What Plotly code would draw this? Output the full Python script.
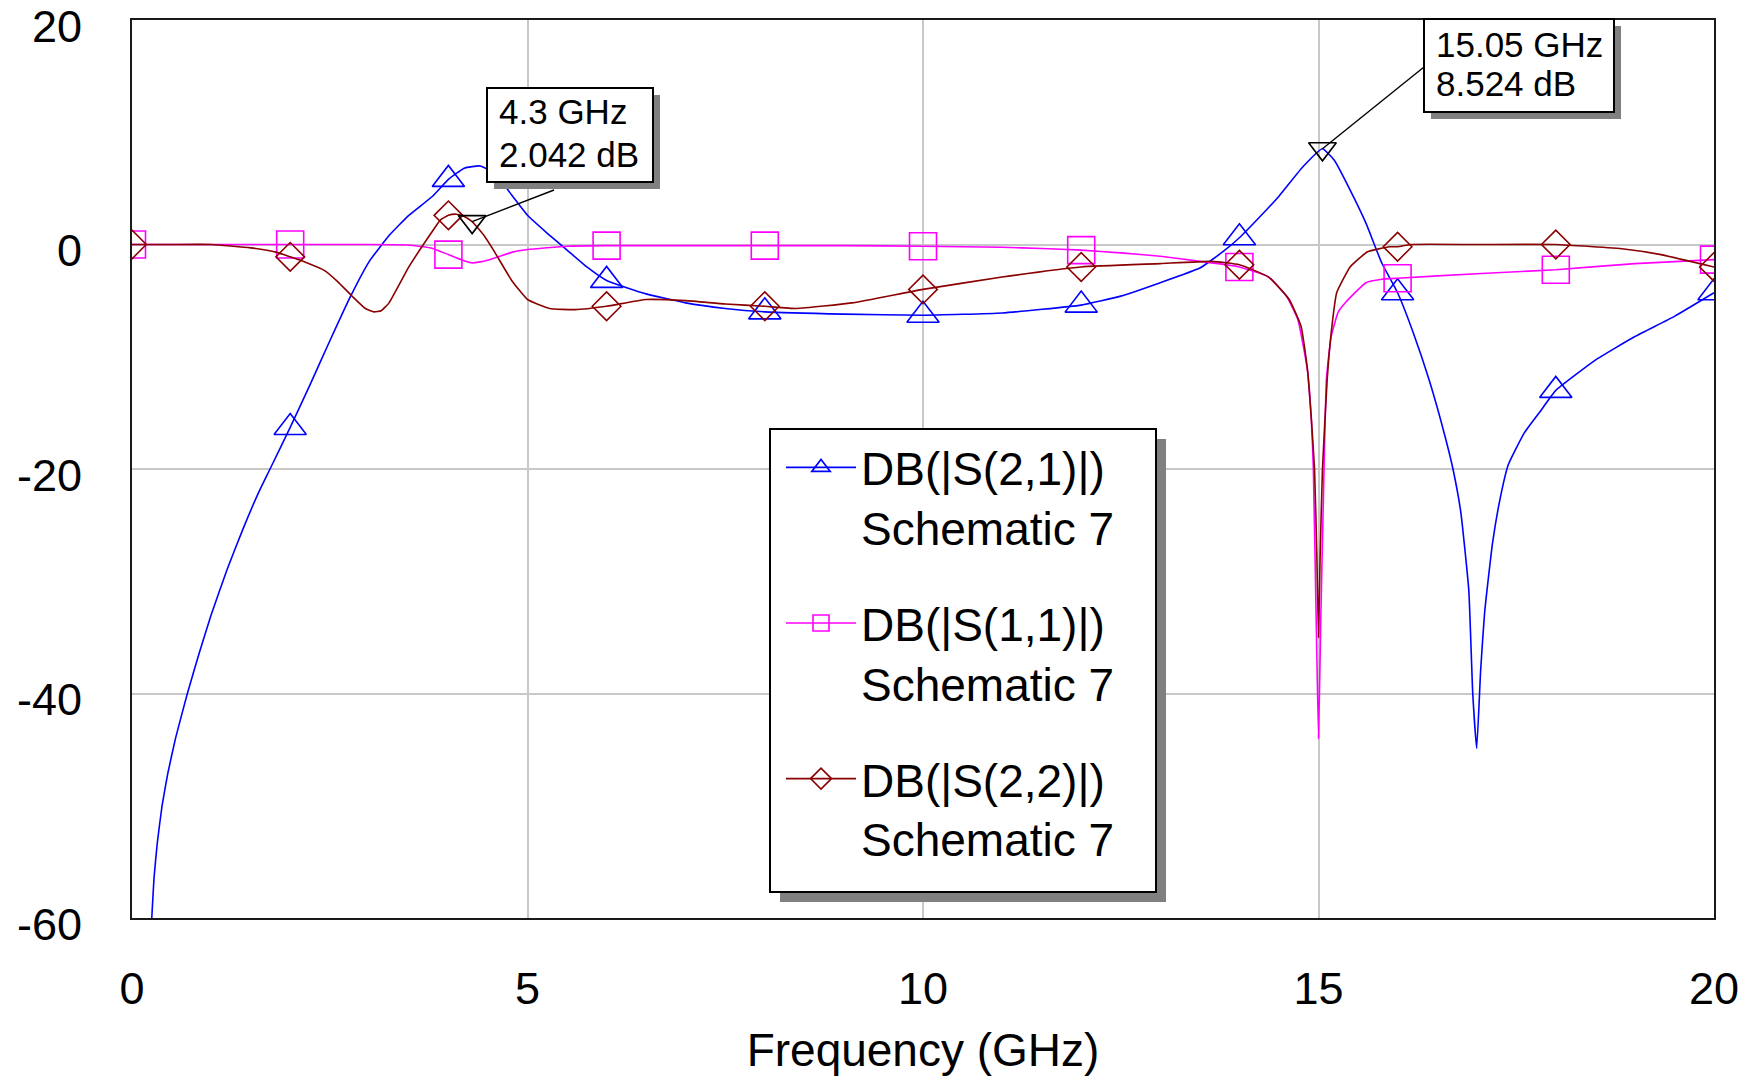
import plotly.graph_objects as go

# ---- S-parameter sweep data (frequency in GHz, magnitude in dB) ----
freq_s21 = [0.25, 0.28, 0.32, 0.38, 0.45, 0.55, 0.70, 0.85, 1.0, 1.2, 1.4, 1.6, 1.745,
            2.0, 2.25, 2.5, 2.75, 3.0, 3.25, 3.5, 3.8, 4.0, 4.2, 4.4, 4.6, 4.8, 5.0,
            5.25, 5.5, 5.75, 6.0, 6.5, 7.0, 7.5, 8.0, 9.0, 10.0, 11.0, 12.0, 12.5, 13.0,
            13.5, 13.8, 14.0, 14.25, 14.5, 14.8, 15.05, 15.2, 15.4, 15.6, 15.8, 16.0,
            16.2, 16.4, 16.6, 16.7, 16.8, 16.9, 16.95, 17.0, 17.05, 17.1, 17.2, 17.3,
            17.4, 17.6, 17.8, 18.0, 18.5, 19.0, 19.5, 20.0]
db_s21 = [-60, -56.3, -53.3, -50.0, -47.2, -44.0, -40.0, -36.4, -33.0, -29.0, -25.4, -22.1, -20.0,
          -16.3, -12.5, -8.6, -4.8, -1.5, 0.8, 2.6, 4.3, 5.8, 6.8, 7.0, 6.3, 4.4, 2.6,
          1.0, -0.5, -2.0, -3.2, -4.4, -5.2, -5.7, -6.0, -6.2, -6.3, -6.1, -5.4, -4.6, -3.4,
          -2.1, -0.6, 0.6, 2.4, 4.3, 6.9, 8.524, 7.5, 4.85, 1.9, -1.65, -4.3,
          -7.9, -12.1, -17.1, -20, -23.9, -30.8, -40, -44.9, -37.9, -32.8, -26.6, -22.5,
          -19.6, -16.8, -14.9, -13.0, -10.3, -8.2, -6.4, -4.3]

freq_s11 = [0, 1, 2, 3, 3.5, 3.8, 4.0, 4.2, 4.3, 4.5, 4.8, 5.0, 5.5, 6.0, 7.0, 8.0, 9.0,
            10.0, 11.0, 11.5, 12.0, 12.5, 13.0, 13.5, 14.0, 14.37, 14.6, 14.74, 14.86,
            14.91, 14.935, 14.975, 15.0, 15.03, 15.07, 15.1, 15.16, 15.25, 15.35, 15.6,
            15.8, 16.0, 17.0, 18.0, 19.0, 20.0]
db_s11 = [0, 0, 0, 0, -0.05, -0.35, -0.9, -1.45, -1.65, -1.4, -0.7, -0.45, -0.15, -0.1,
          -0.1, -0.1, -0.1, -0.15, -0.25, -0.35, -0.5, -0.75, -1.05, -1.5, -2.0, -2.9,
          -4.65, -6.7, -11.2, -15.6, -20, -35, -44, -33, -20, -12, -8.2, -6.0, -5.1, -3.4,
          -3.1, -3.0, -2.6, -2.25, -1.7, -1.35]

freq_s22 = [0, 0.5, 1.0, 1.5, 1.83, 2.0, 2.2, 2.43, 2.6, 2.79, 2.95, 3.06, 3.15, 3.25,
            3.5, 3.78, 3.9, 4.0, 4.1, 4.2, 4.3, 4.45, 4.57, 4.8, 5.0, 5.28, 5.6, 6.0,
            6.5, 7.0, 7.5, 8.0, 8.4, 9.1, 10.0, 11.0, 12.0, 13.0, 13.65, 14.0, 14.37,
            14.63, 14.78, 14.86, 14.91, 14.95, 14.98, 15.0, 15.02, 15.05, 15.11, 15.16,
            15.23, 15.4, 15.62, 15.9, 16.0, 16.17, 17.0, 18.0, 18.86, 19.33, 20.0]
db_s22 = [0, 0, 0, -0.3, -0.7, -1.1, -1.6, -2.3, -3.3, -4.65, -5.7, -6.0, -5.9, -5.2,
          -2.0, 1.0, 2.2, 2.6, 2.7, 2.5, 2.042, 0.8, -0.5, -3.2, -4.9, -5.7, -5.8, -5.5,
          -4.9, -5.0, -5.3, -5.5, -5.7, -5.2, -4.0, -2.9, -2.0, -1.7, -1.5, -1.8, -2.9,
          -4.9, -7.3, -11.1, -15.6, -20, -28, -35, -28, -20, -12, -7.9,
          -4.3, -2.0, -0.65, -0.2, -0.2, 0, 0, 0, -0.4, -0.9, -2.0]

# marker readouts (frequency GHz, value dB)
readout_freq = [4.3, 15.05]
readout_db = [2.042, 8.524]
readout_text = [("4.3 GHz", "2.042 dB"), ("15.05 GHz", "8.524 dB")]

x_ticks = [0, 5, 10, 15, 20]
x_ticklabels = ["0", "5", "10", "15", "20"]
y_ticks = [-60, -40, -20, 0, 20]
y_ticklabels = ["-60", "-40", "-20", "0", "20"]

series = [
    ("DB(|S(2,1)|)", "Schematic 7", freq_s21, db_s21, "#0000FF", "triangle-up-open", 28),
    ("DB(|S(1,1)|)", "Schematic 7", freq_s11, db_s11, "#FF00FF", "square-open", 27),
    ("DB(|S(2,2)|)", "Schematic 7", freq_s22, db_s22, "#8B0000", "diamond-open", 22),
]

FONT = "Arial, 'Liberation Sans', sans-serif"
W, H = 1760, 1080
L, R, T, B = 132, 46, 20, 162
PW, PH = W - L - R, H - T - B
X_MIN, X_MAX, Y_MIN, Y_MAX = 0, 20, -60, 20


def px_x(px):
    return (px - L) / PW


def px_y(py):
    return (H - B - py) / PH


def px_to_data(px, py):
    return (X_MIN + (px - L) / PW * (X_MAX - X_MIN),
            Y_MAX - (py - T) / PH * (Y_MAX - Y_MIN))


fig = go.Figure()

for i, (name, sub, fx, fy, color, sym, msz) in enumerate(series):
    fig.add_trace(go.Scatter(x=fx, y=fy, mode="lines", showlegend=False,
                             line=dict(color=color, width=1.6, shape="spline", smoothing=0.4),
                             hoverinfo="skip"))
    # symbols every 2 GHz
    even = [k for k, f in enumerate(fx) if abs(f - round(f)) < 1e-9 and int(round(f)) % 2 == 0]
    fig.add_trace(go.Scatter(x=[fx[k] for k in even], y=[fy[k] for k in even],
                             mode="markers", showlegend=False,
                             marker=dict(symbol=sym, size=msz, color=color,
                                         line=dict(color=color, width=1.6))))
    fig.add_trace(go.Scatter(x=[None], y=[None], mode="lines+markers",
                             name=f"{name}<br>{sub}", legendgroup=f"g{i}",
                             line=dict(color=color, width=1.6),
                             marker=dict(symbol=sym, size=16, color=color,
                                         line=dict(color=color, width=1.6))))

# readout markers
fig.add_trace(go.Scatter(x=readout_freq, y=readout_db, mode="markers", showlegend=False,
                         marker=dict(symbol="triangle-down-open", size=24, color="black",
                                     line=dict(color="black", width=1.6))))

shapes = []
annotations = []
# readout boxes: box (left, top, right, bottom) px, leader end px, text left px, line centres px
boxes = [
    ((487, 88, 653, 182), (554, 190), 497, (112, 154)),
    ((1424, 19, 1614, 112), (1424, 67), 1434, (45, 84)),
]
for (box, lead, tx, (ty1, ty2)), f0, v0, (t1, t2) in zip(boxes, readout_freq, readout_db,
                                                         readout_text):
    bx0, by0, bx1, by1 = box
    lx, ly = px_to_data(*lead)
    shapes.append(dict(type="line", xref="x", yref="y", x0=f0, y0=v0, x1=lx, y1=ly,
                       line=dict(color="black", width=1.4), layer="above"))
    shapes.append(dict(type="rect", xref="paper", yref="paper",
                       x0=px_x(bx0 + 7), x1=px_x(bx1 + 7), y0=px_y(by0 + 7), y1=px_y(by1 + 7),
                       fillcolor="#808080", line=dict(width=0), layer="above"))
    shapes.append(dict(type="rect", xref="paper", yref="paper",
                       x0=px_x(bx0), x1=px_x(bx1), y0=px_y(by0), y1=px_y(by1),
                       fillcolor="white", line=dict(color="black", width=2), layer="above"))
    for txt, ty in ((t1, ty1), (t2, ty2)):
        annotations.append(dict(text=txt, xref="paper", yref="paper", x=px_x(tx), y=px_y(ty),
                                xanchor="left", yanchor="middle", showarrow=False,
                                font=dict(family=FONT, size=35, color="black")))

# legend frame with drop shadow
LG = (770, 429, 1156, 892)
shapes.append(dict(type="rect", xref="paper", yref="paper",
                   x0=px_x(LG[0] + 10), x1=px_x(LG[2] + 10), y0=px_y(LG[1] + 10), y1=px_y(LG[3] + 10),
                   fillcolor="#808080", line=dict(width=0), layer="above"))
shapes.append(dict(type="rect", xref="paper", yref="paper",
                   x0=px_x(LG[0]), x1=px_x(LG[2]), y0=px_y(LG[1]), y1=px_y(LG[3]),
                   fillcolor="white", line=dict(color="black", width=2), layer="above"))

axis_common = dict(showgrid=True, gridcolor="#C8C8C8", gridwidth=1.5, zeroline=False,
                   showline=True, linecolor="#1A1A1A", linewidth=2, mirror=True,
                   ticks="", automargin=False, ticklabeloverflow="allow",
                   tickfont=dict(family=FONT, size=45, color="black"))

fig.update_layout(
    width=W, height=H, margin=dict(l=L, r=R, t=T, b=B, autoexpand=False),
    paper_bgcolor="white", plot_bgcolor="white",
    xaxis=dict(range=[X_MIN, X_MAX], tickvals=x_ticks, ticktext=x_ticklabels,
               ticklabelstandoff=30,
               title=dict(text="Frequency (GHz)", font=dict(family=FONT, size=46, color="black"),
                          standoff=21),
               **axis_common),
    yaxis=dict(range=[Y_MIN, Y_MAX], tickvals=y_ticks, ticktext=y_ticklabels,
               ticklabelstandoff=39, ticklabelshift=6, **axis_common),
    legend=dict(x=px_x(LG[0] + 11), y=px_y(LG[1] + 2), xanchor="left", yanchor="top",
                bgcolor="rgba(0,0,0,0)", borderwidth=0,
                font=dict(family=FONT, size=46, color="black"),
                itemwidth=70, valign="top", tracegroupgap=33,
                itemclick=False, itemdoubleclick=False),
    shapes=shapes, annotations=annotations,
    showlegend=True,
)

fig.write_html("out.html")
